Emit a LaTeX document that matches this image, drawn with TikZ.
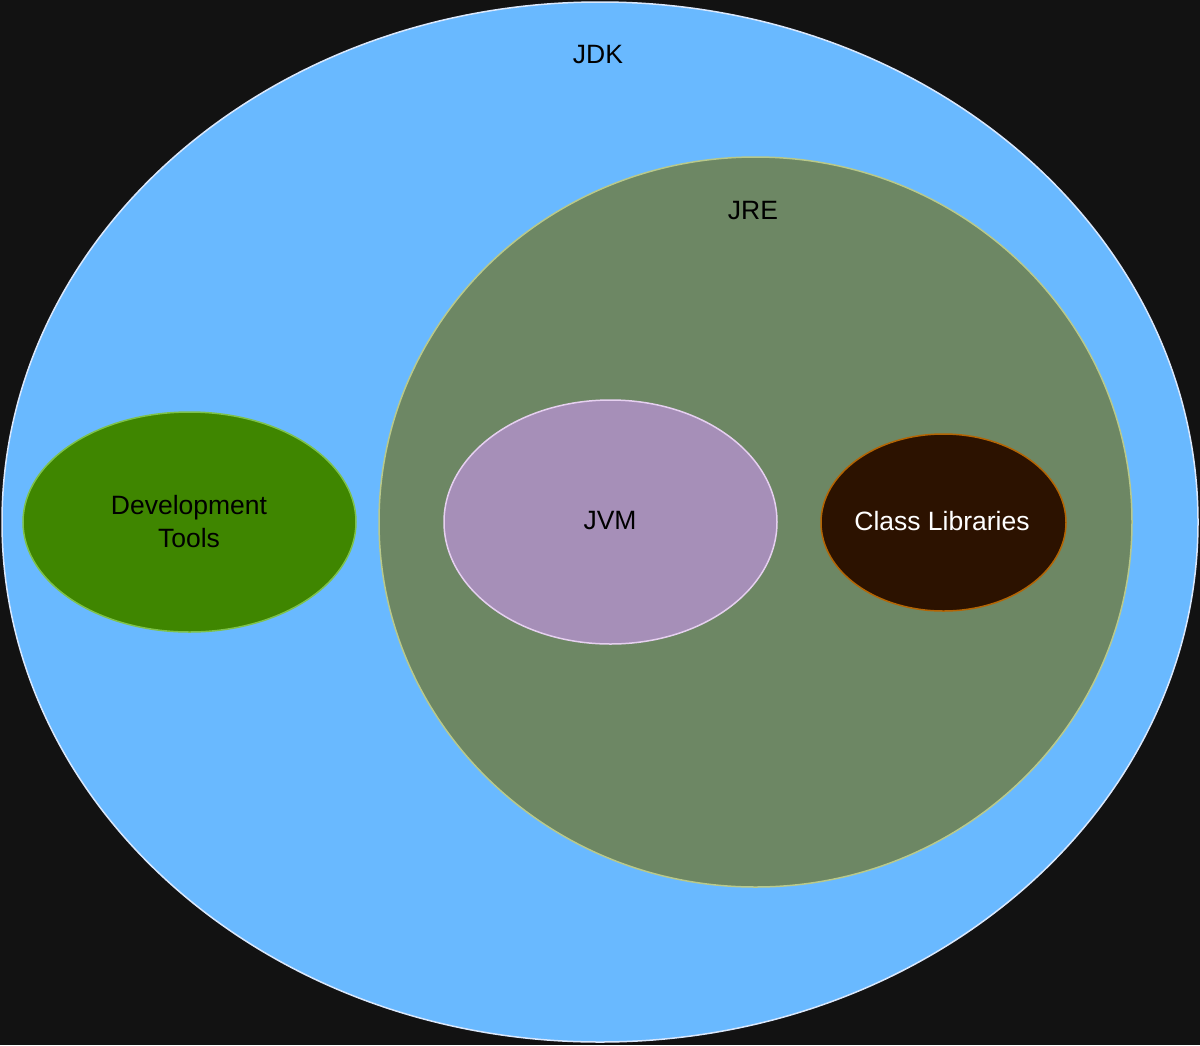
\documentclass[tikz,border=0pt]{standalone}
\usepackage{fontspec}
\setmainfont{Liberation Sans}
\usetikzlibrary{shapes.geometric}
\definecolor{bg}{HTML}{121212}
\definecolor{jdkfill}{HTML}{69B9FF}
\definecolor{jdkline}{HTML}{DAE8FC}
\definecolor{jrefill}{HTML}{6D8764}
\definecolor{jreline}{HTML}{B9C98A}
\definecolor{devfill}{HTML}{3F8600}
\definecolor{devline}{HTML}{7EC24A}
\definecolor{jvmfill}{HTML}{A68FB8}
\definecolor{jvmline}{HTML}{E6D0F0}
\definecolor{clfill}{HTML}{2C1200}
\definecolor{clline}{HTML}{B46504}
\begin{document}
\begin{tikzpicture}[x=1pt,y=-1pt,
  ell/.style={ellipse,inner sep=0pt,line width=1.5pt},
  lbl/.style={font=\fontsize{26.5}{33}\selectfont,align=center}]
\fill[bg] (0,0) rectangle (1200,1045);
\useasboundingbox (0,0) rectangle (1200,1045);
\node[ell,fill=jdkfill,draw=jdkline,minimum width=1196pt,minimum height=1040pt] (jdk) at (600,522) {};
\node[ell,fill=jrefill,draw=jreline,minimum width=753pt,minimum height=730pt] (jre) at (755.5,522) {};
\node[ell,fill=devfill,draw=devline,minimum width=333pt,minimum height=220pt] (dev) at (189.5,522) {};
\node[ell,fill=jvmfill,draw=jvmline,minimum width=333pt,minimum height=244pt] (jvm) at (610.5,522) {};
\node[ell,fill=clfill,draw=clline,minimum width=245pt,minimum height=177pt] (cl) at (943.5,522.5) {};
\node[lbl] (jdkt) at (598,55) {JDK};
\node[lbl] (jret) at (753,211) {JRE};
\node[lbl] (devt) at (189,522) {Development\\Tools};
\node[lbl] (jvmt) at (610,521) {JVM};
\node[lbl,text=white] (clt) at (942,521) {Class Libraries};
\end{tikzpicture}
\end{document}
